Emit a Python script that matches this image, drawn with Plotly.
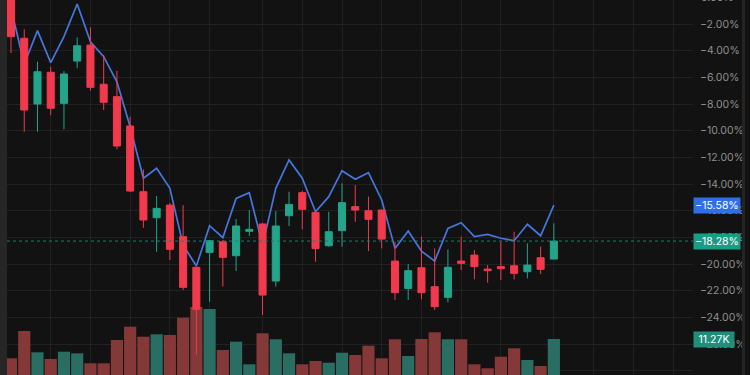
import plotly.graph_objects as go

# ---- data ----
idx = list(range(42))
open_ = [0.30, -3.07, -8.00, -5.62, -7.95, -4.78, -3.58, -6.52, -7.45, -9.65,
         -14.58, -16.53, -15.58, -17.95, -20.25, -19.13, -18.33, -19.38, -17.55, -17.00,
         -21.28, -16.38, -14.65, -16.13, -18.63, -17.50, -15.70, -16.00, -15.95, -19.78,
         -21.83, -20.28, -21.70, -22.50, -19.78, -19.33, -20.38, -20.20, -20.13, -20.58,
         -19.53, -19.63]
high = [0.80, -2.40, -4.83, -5.20, -5.53, -3.00, -2.25, -4.33, -5.50, -8.95,
        -12.90, -14.90, -15.43, -15.58, -20.20, -18.25, -18.20, -16.63, -15.95, -16.90,
        -16.03, -14.58, -14.50, -16.00, -16.08, -13.95, -14.08, -14.95, -15.90, -18.33,
        -20.00, -17.95, -18.83, -18.90, -17.95, -18.95, -20.08, -18.33, -17.58, -18.45,
        -18.70, -16.95]
low = [-4.18, -10.08, -10.08, -8.83, -9.90, -5.32, -7.00, -8.45, -11.40, -14.60,
       -17.28, -19.08, -19.70, -21.95, -26.80, -22.83, -21.70, -20.53, -17.90, -23.83,
       -21.70, -17.15, -17.40, -19.83, -18.70, -18.70, -16.83, -19.03, -18.83, -22.70,
       -22.70, -22.65, -23.45, -22.88, -20.45, -21.15, -21.40, -21.20, -21.15, -21.08,
       -20.75, -19.63]
close = [-2.95, -8.45, -5.58, -8.32, -5.75, -3.63, -6.75, -7.87, -11.15, -14.53,
         -16.70, -15.83, -18.90, -21.75, -23.40, -18.25, -19.50, -17.15, -17.40, -22.33,
         -17.15, -15.53, -15.90, -18.85, -17.58, -15.40, -15.95, -16.65, -18.13, -22.15,
         -20.50, -22.15, -23.20, -20.25, -19.95, -20.20, -20.50, -20.35, -20.70, -20.08,
         -20.40, -18.28]
compare_line = [-0.80, -5.02, -2.50, -4.90, -2.95, -0.50, -3.33, -4.45, -6.33, -9.70,
                -13.57, -12.82, -14.32, -18.58, -20.15, -17.13, -18.03, -15.08, -14.65, -18.58,
                -14.32, -12.20, -13.57, -16.08, -14.95, -13.00, -13.65, -13.15, -15.20, -18.83,
                -17.53, -19.03, -19.78, -17.33, -16.90, -17.95, -17.78, -18.07, -18.25, -17.02,
                -17.88, -15.58]
volume_k = [5.23, 13.78, 7.11, 5.01, 7.30, 6.79, 3.66, 3.66, 10.96, 15.12,
            11.99, 12.74, 12.52, 17.94, 21.29, 20.66, 7.83, 10.43, 3.35, 13.06,
            11.18, 6.79, 3.35, 4.38, 3.85, 6.98, 6.26, 9.17, 5.23, 11.18,
            5.95, 11.27, 13.37, 11.18, 11.18, 3.35, 2.10, 5.73, 8.36, 4.70,
            2.82, 11.27]
grid_x = [3, 6, 9, 12, 15, 19, 22, 25, 28, 31, 34, 37, 41, 44, 47, 50]
price_ticks = list(range(-28, 0, 2))

# ---- style ----
BG = "#121212"
UP = "#22a58a"
DN = "#f23a4c"
VOL_UP = "#2a6d63"
VOL_DN = "#853838"
LINE = "#4577dd"
GRID = "#212121"
TXT = "#8f8f8f"
FONT = "Inter"

def pct(v):
    return f"{v:.2f}%".replace("-", "\u2212")

vol_colors = [VOL_UP if c >= o else VOL_DN for o, c in zip(open_, close)]

fig = go.Figure()
fig.add_trace(go.Scatter(x=idx, y=compare_line, mode="lines",
                         line=dict(color=LINE, width=1.7), yaxis="y", hoverinfo="skip"))
fig.add_trace(go.Bar(x=idx, y=volume_k, marker=dict(color=vol_colors, line=dict(width=0)),
                     width=0.92, yaxis="y2", hoverinfo="skip"))
fig.add_trace(go.Candlestick(x=idx, open=open_, high=high, low=low, close=close,
                             increasing=dict(line=dict(color=UP, width=1), fillcolor=UP),
                             decreasing=dict(line=dict(color=DN, width=1), fillcolor=DN),
                             whiskerwidth=0, yaxis="y3", hoverinfo="skip"))

yr = [-28.325, -0.2]
xr = [-0.302, 51.51]

fig.update_layout(
    width=750, height=375,
    margin=dict(l=7, r=57, t=0, b=0),
    paper_bgcolor=BG, plot_bgcolor=BG,
    showlegend=False,
    boxgap=0.24,
    font=dict(family=FONT, color=TXT, size=10),
    xaxis=dict(range=xr, showgrid=True, gridcolor=GRID, gridwidth=1,
               tickmode="array", tickvals=grid_x, showticklabels=False,
               zeroline=False, rangeslider=dict(visible=False), showline=False),
    yaxis=dict(range=yr, side="right", showgrid=True, gridcolor=GRID, gridwidth=1,
               tickmode="array", tickvals=price_ticks,
               ticktext=[pct(v) for v in price_ticks],
               ticks="", ticklabelstandoff=6, zeroline=False, showline=False,
               tickfont=dict(family=FONT, size=10.5, color=TXT)),
    yaxis2=dict(range=[0, 117.4], overlaying="y", visible=False, showgrid=False),
    yaxis3=dict(range=yr, overlaying="y", visible=False, showgrid=False),
)

# left strip and right border
fig.add_shape(type="rect", xref="paper", yref="paper", x0=-7/686, x1=0, y0=0, y1=1,
              fillcolor="#262626", line=dict(width=0), layer="below")
fig.add_shape(type="rect", xref="paper", yref="paper", x0=(742-7)/686, x1=(745-7)/686,
              y0=0, y1=1, fillcolor="#242424", line=dict(width=0))

# dotted last-close line
fig.add_shape(type="line", xref="paper", yref="y", x0=0, x1=1, y0=close[-1], y1=close[-1],
              line=dict(color="#1d7e6a", width=1, dash="dot"))

# right-side value labels
fig.add_annotation(xref="paper", yref="y", x=1, y=compare_line[-1], xanchor="left",
                   yanchor="middle", text=pct(compare_line[-1]), showarrow=False,
                   bgcolor="#2e6fe6", font=dict(color="#ffffff", size=10.5, family=FONT),
                   borderpad=1, width=44, align="center")
fig.add_annotation(xref="paper", yref="y", x=1, y=close[-1], xanchor="left",
                   yanchor="middle", text=pct(close[-1]), showarrow=False,
                   bgcolor="#1a9d84", font=dict(color="#ffffff", size=10.5, family=FONT),
                   borderpad=1, width=44, align="center")
fig.add_annotation(xref="paper", yref="y2", x=1, y=volume_k[-1], xanchor="left",
                   yanchor="middle", text=f"{volume_k[-1]:.2f}K", showarrow=False,
                   bgcolor="#1f8f7c", font=dict(color="#ffffff", size=10.5, family=FONT),
                   borderpad=1, width=38, align="center")
# partially visible top tick label
fig.add_annotation(xref="paper", yref="paper", x=1, y=1 + 2.7/375, xanchor="left",
                   xshift=6, yanchor="middle", text=pct(0.0).replace("\u2212", ""),
                   showarrow=False, font=dict(color=TXT, size=10.5, family=FONT))

fig.write_html("out.html")
